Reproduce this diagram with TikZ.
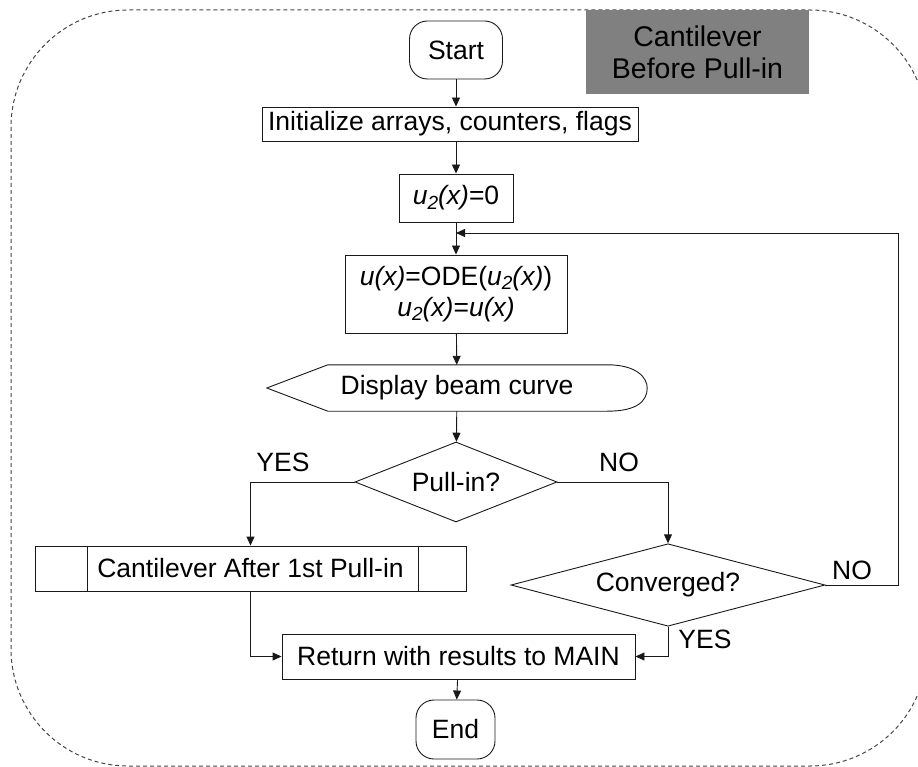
\documentclass[tikz,border=0pt]{standalone}
\usepackage{fontspec}
\setmainfont{Liberation Sans}
\usepackage{xcolor}
\usepackage{tikz}
\usetikzlibrary{shapes.geometric, arrows.meta, positioning}
\definecolor{titlegray}{RGB}{128, 128, 128}
\definecolor{framegray}{RGB}{70, 70, 70}
\definecolor{linegray}{RGB}{25, 25, 25}
\tikzset{
    every node/.style={font=\fontsize{26.5}{30}\selectfont, inner sep=0pt},
    flowbox/.style={draw=linegray, line width=0.9pt, align=center},
    termbox/.style={flowbox, rounded corners=18pt},
    decision/.style={diamond, draw=linegray, line width=0.9pt, aspect=2.5},
    flowarrow/.style={draw=linegray, line width=0.9pt, -{Triangle[length=9pt, width=8pt]}},
    flowline/.style={draw=linegray, line width=0.9pt}
}
\newcommand{\uu}{\textit{u}}
\newcommand{\utwo}{\textit{u}\raisebox{-0.3ex}{\textit{\fontsize{19}{20}\selectfont 2}}}
\newcommand{\xx}{\textit{(x)}}

\begin{document}
\begin{tikzpicture}[x=1pt, y=-1pt]
        \useasboundingbox (0,0) rectangle (918,767);
        \draw[framegray, line width=1pt, dash pattern=on 4pt off 3pt, rounded corners=117pt] (11,10) rectangle (927,766);

        \node[fill=titlegray, minimum width=223pt, minimum height=84pt, align=center, font=\fontsize{28.5}{32}\selectfont] (title) at (697.5,52) {Cantilever\\Before Pull-in};

        \node[termbox, minimum width=93pt, minimum height=58pt] (start) at (456,50) {Start};
        \node[flowbox, minimum width=376pt, minimum height=34pt] (init) at (450,124) {Initialize arrays, counters, flags};
        \node[flowbox, minimum width=114pt, minimum height=48pt] (ustart) at (456,198) {\utwo\xx=0};
        \node[flowbox, minimum width=222pt, minimum height=78pt, font=\fontsize{26.5}{31}\selectfont] (ode) at (456,294) {\uu\xx=ODE(\utwo\xx)\\\utwo\xx=\uu\xx};
        \node[minimum width=380pt, minimum height=46pt] (disp) at (457,388) {Display beam curve};
        \draw[flowline] (disp.west) -- ([xshift=61pt]disp.north west) -- ([xshift=-40pt]disp.north east)
            .. controls ([xshift=-10pt]disp.north east) and ([yshift=10pt]disp.east) .. (disp.east)
            .. controls ([yshift=-13pt]disp.east) and ([xshift=-10pt]disp.south east) .. ([xshift=-40pt]disp.south east)
            -- ([xshift=61pt]disp.south west) -- cycle;
        \node[decision, minimum width=202pt, minimum height=80pt] (pullin) at (456,482) {Pull-in?};
        \node[flowbox, minimum width=431pt, minimum height=45pt] (after) at (250.5,568.5) {Cantilever After 1st Pull-in};
        \draw[flowline] ([xshift=53pt]after.north west) -- ([xshift=53pt]after.south west);
        \draw[flowline] ([xshift=-48pt]after.north east) -- ([xshift=-48pt]after.south east);
        \node[decision, minimum width=314pt, minimum height=76pt] (conv) at (668,585) {Converged?};
        \node[flowbox, minimum width=353pt, minimum height=45pt] (ret) at (458.5,656.5) {Return with results to MAIN};
        \node[termbox, minimum width=79pt, minimum height=59pt] (finish) at (455.5,729.5) {End};

        \node (yesleft) at (283,462) {YES};
        \node (noright) at (619,462) {NO};
        \node (noloop) at (852,570) {NO};
        \node (yesdown) at (705,639) {YES};

        \coordinate (loopturn) at (898,233);
        \coordinate (loopin) at (456,233);

        \draw[flowarrow] (start) -- (start |- init.north);
        \draw[flowarrow] (ustart.north |- init.south) -- (ustart.north);
        \draw[flowarrow] (ustart) -- (ode);
        \draw[flowarrow] (ode) -- (disp);
        \draw[flowarrow] (disp) -- (pullin);
        \draw[flowarrow] (pullin.west) -| (after.north);
        \draw[flowarrow] (pullin.east) -| (conv.north);
        \draw[flowarrow] (conv.east) -| (loopturn) -- (loopin);
        \draw[flowarrow] (conv.south) |- (ret.east);
        \draw[flowarrow] (after.south) |- (ret.west);
        \draw[flowarrow] (ret) -- (finish);
    \end{tikzpicture}
\end{document}
